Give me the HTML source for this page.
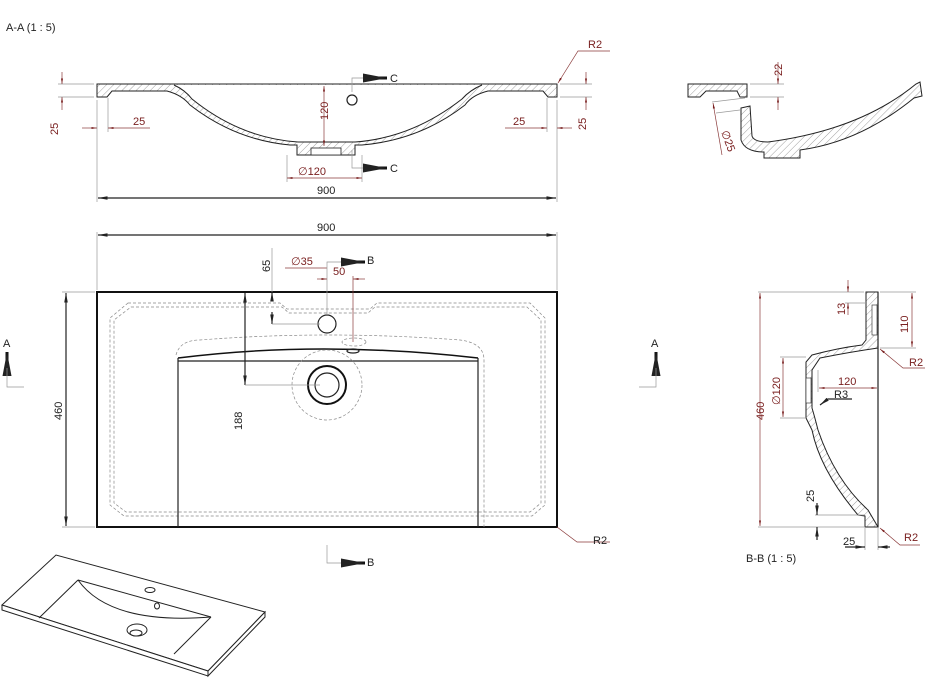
<!DOCTYPE html>
<html><head><meta charset="utf-8"><style>
html,body{margin:0;padding:0;background:#fff;}
svg{display:block;font-family:"Liberation Sans",sans-serif;}
.k{stroke:#222;fill:none;stroke-width:1.2}
.kb{stroke:#111;fill:none;stroke-width:2}
.d{stroke:#8a3a3a;fill:none;stroke-width:0.7}
.g{stroke:#999;fill:none;stroke-width:0.7}
.ds{stroke:#888;fill:none;stroke-width:0.7;stroke-dasharray:3 2}
.t{font-size:11px;fill:#222}
.r{font-size:11px;fill:#7a2020}
.h{fill:url(#hat);stroke:#222;stroke-width:1}
</style></head><body>
<svg width="928" height="686" viewBox="0 0 928 686">
<defs>
<pattern id="hat" width="5" height="5" patternUnits="userSpaceOnUse" patternTransform="rotate(45)">
<rect width="5" height="5" fill="#fff"/><line x1="0" y1="0" x2="0" y2="5" stroke="#777" stroke-width="0.7"/></pattern>
<marker id="a" markerWidth="8" markerHeight="6" refX="8" refY="3" orient="auto-start-reverse"><path d="M0,1.5 L8,3 L0,4.5z" fill="#7a2020"/></marker>
<marker id="ab" markerWidth="8" markerHeight="6" refX="8" refY="3" orient="auto-start-reverse"><path d="M0,1.5 L8,3 L0,4.5z" fill="#222"/></marker>
</defs>

<text x="6" y="31" class="t">A-A  (1 : 5)</text>

<!-- Section A-A -->
<path class="h" d="M97,84 L557,84 L557,97 L548,97 L543,91 L488,91 Q472,95 465,105 Q420,140 362,145 L355,145 L355,155 L297,155 L297,145 L290,145 Q235,140 190,105 Q182,95 167,91 L112,91 L107,97 L97,97 Z"/>
<path d="M174,85 Q185,90 192,99 Q240,138 298,142 L355,142 Q412,138 462,99 Q470,90 482,85" fill="#fff" stroke="#222" stroke-width="1"/>
<rect x="311" y="148" width="30" height="7" fill="#fff" stroke="#222" stroke-width="0.8"/>
<circle cx="352" cy="100" r="5" class="k"/>
<line x1="324" y1="86" x2="324" y2="146" class="d" marker-start="url(#a)" marker-end="url(#a)"/>
<text transform="translate(328,120) rotate(-90)" class="r">120</text>
<path d="M352,92 V78 H370" class="g"/><path d="M370,78 L387,78" stroke="#111" stroke-width="3" marker-end="url(#ab)"/>
<text x="390" y="82" class="t">C</text>
<path d="M352,150 V168 H370" class="g"/><path d="M370,168 L387,168" stroke="#111" stroke-width="3" marker-end="url(#ab)"/>
<text x="390" y="172" class="t">C</text>
<line x1="287" y1="155" x2="287" y2="182" class="g"/><line x1="362" y1="155" x2="362" y2="182" class="g"/>
<line x1="287" y1="178" x2="362" y2="178" class="d" marker-start="url(#a)" marker-end="url(#a)"/>
<text x="298" y="175" class="r">∅120</text>
<line x1="97" y1="100" x2="97" y2="202" class="g"/><line x1="557" y1="100" x2="557" y2="202" class="g"/>
<line x1="98" y1="198" x2="556" y2="198" class="k" stroke-width="0.8" marker-start="url(#ab)" marker-end="url(#ab)"/>
<text x="317" y="194" class="t">900</text>
<line x1="58" y1="84" x2="94" y2="84" class="g"/><line x1="58" y1="97" x2="94" y2="97" class="g"/>
<line x1="62" y1="72" x2="62" y2="84" class="d" marker-end="url(#a)"/><line x1="62" y1="110" x2="62" y2="97" class="d" marker-end="url(#a)"/>
<text transform="translate(58,135) rotate(-90)" class="r">25</text>
<line x1="108" y1="98" x2="108" y2="132" class="g"/>
<line x1="82" y1="128" x2="97" y2="128" class="d" marker-end="url(#a)"/><line x1="150" y1="128" x2="108" y2="128" class="d" marker-end="url(#a)"/>
<text x="133" y="125" class="r">25</text>
<line x1="547" y1="98" x2="547" y2="132" class="g"/>
<line x1="505" y1="128" x2="547" y2="128" class="d" marker-end="url(#a)"/><line x1="572" y1="128" x2="557" y2="128" class="d" marker-end="url(#a)"/>
<text x="513" y="125" class="r">25</text>
<line x1="560" y1="84" x2="592" y2="84" class="g"/><line x1="560" y1="97" x2="592" y2="97" class="g"/>
<line x1="586" y1="72" x2="586" y2="84" class="d" marker-end="url(#a)"/><line x1="586" y1="110" x2="586" y2="97" class="d" marker-end="url(#a)"/>
<text transform="translate(586,130) rotate(-90)" class="r">25</text>
<path d="M610,51 H578 L558,83" class="d" marker-end="url(#a)"/>
<text x="588" y="48" class="r">R2</text>

<!-- Section C -->
<path class="h" d="M688,84 L747,84 L747,97 L740,97 L737,91 L706,91 L700,97 L688,97 Z"/>
<path class="h" d="M741,108 L750,106 L752,136 Q754,142 768,142 Q860,130 916,84 L920,82 L922,96 L914,98 Q860,142 800,150 L800,158 L764,158 L764,152 Q745,152 741,140 Z"/>
<line x1="750" y1="84" x2="784" y2="84" class="g"/><line x1="750" y1="97" x2="784" y2="97" class="g"/>
<line x1="778" y1="62" x2="778" y2="84" class="d" marker-end="url(#a)"/><line x1="778" y1="110" x2="778" y2="97" class="d" marker-end="url(#a)"/>
<text transform="translate(782,76) rotate(-90)" class="r">22</text>
<line x1="712" y1="102" x2="745" y2="98" class="g"/><line x1="716" y1="113" x2="740" y2="110" class="g"/>
<line x1="713" y1="103" x2="722" y2="155" class="d" marker-start="url(#a)"/>
<text transform="translate(721,132) rotate(70)" class="r">∅25</text>

<!-- Plan view -->
<line x1="97" y1="232" x2="97" y2="290" class="g"/><line x1="557" y1="232" x2="557" y2="290" class="g"/>
<line x1="98" y1="235" x2="556" y2="235" class="k" stroke-width="0.8" marker-start="url(#ab)" marker-end="url(#ab)"/>
<text x="317" y="231" class="t">900</text>
<line x1="62" y1="292" x2="95" y2="292" class="g"/><line x1="62" y1="527" x2="95" y2="527" class="g"/>
<line x1="66" y1="293" x2="66" y2="526" class="k" stroke-width="0.6" marker-start="url(#ab)" marker-end="url(#ab)"/>
<text transform="translate(62,420) rotate(-90)" class="t">460</text>
<rect x="97" y="292" width="460" height="235" class="kb"/>
<path class="ds" d="M128,303 H280 L287,309 H370 L377,303 H530 L545,318 V505 L532,516 H124 L110,505 V318 Z"/>
<path class="ds" d="M131,307 H282 L289,313 H368 L375,307 H527 L541,320 V503 L530,512 H126 L114,503 V320 Z"/>
<path class="ds" d="M176,355 Q180,340 200,340 Q327,330 460,340 Q484,343 484,360 V527"/>
<path d="M178,358 Q320,340 478,358" stroke="#111" stroke-width="1.5" fill="none"/>
<path d="M178,358 V527 M478,358 V527 M178,361 H478" class="k"/>
<circle cx="327" cy="385" r="35" class="ds"/>
<circle cx="327" cy="385" r="19" stroke="#111" stroke-width="2" fill="none"/>
<circle cx="327" cy="385" r="12" class="k"/>
<circle cx="327" cy="324" r="9" class="k"/>
<ellipse cx="354" cy="342" rx="12" ry="4" class="ds"/>
<ellipse cx="353" cy="351" rx="6" ry="2" class="k"/>
<line x1="245" y1="293" x2="245" y2="385" class="k" stroke-width="0.6" marker-start="url(#ab)" marker-end="url(#ab)"/>
<line x1="245" y1="385" x2="320" y2="385" class="g"/>
<text transform="translate(242,430) rotate(-90)" class="t">188</text>
<line x1="272" y1="248" x2="272" y2="292" class="g"/>
<line x1="272" y1="300" x2="272" y2="292" class="k" stroke-width="0.6" marker-end="url(#ab)"/>
<line x1="272" y1="312" x2="272" y2="324" class="k" stroke-width="0.6" marker-end="url(#ab)"/>
<line x1="272" y1="324" x2="320" y2="324" class="g"/>
<text transform="translate(270,272) rotate(-90)" class="t">65</text>
<line x1="285" y1="268" x2="327" y2="268" class="d"/>
<text x="291" y="265" class="r">∅35</text>
<path d="M327,315 V262 H348" class="g"/><path d="M348,262 L365,262" stroke="#111" stroke-width="3" marker-end="url(#ab)"/>
<text x="367" y="264" class="t">B</text>
<line x1="353" y1="276" x2="353" y2="342" class="d"/>
<line x1="317" y1="279" x2="327" y2="279" class="d" marker-end="url(#a)"/>
<line x1="365" y1="279" x2="353" y2="279" class="d" marker-end="url(#a)"/>
<text x="333" y="275" class="r">50</text>
<path d="M327,545 V563 H348" class="g"/><path d="M348,563 L365,563" stroke="#111" stroke-width="3" marker-end="url(#ab)"/>
<text x="367" y="566" class="t">B</text>
<path d="M557,527 L577,542 H610" class="d"/>
<text x="593" y="544" class="t">R2</text>
<text x="3" y="347" class="t">A</text>
<path d="M7,368 V352" stroke="#111" stroke-width="3" marker-end="url(#ab)"/>
<path d="M7,368 V387 H24" class="g"/>
<text x="651" y="347" class="t">A</text>
<path d="M656,368 V352" stroke="#111" stroke-width="3" marker-end="url(#ab)"/>
<path d="M656,368 V387 H639" class="g"/>

<!-- Section B-B -->
<path class="h" d="M866,292 L878,292 L878,348 Q850,352 820,358 L812,370 L812,408 Q815,418 818,430 Q835,480 868,510 L878,527 L865,527 L865,516 L858,515 Q820,470 812,430 L806,418 V362 L812,355 Q838,348 862,345 L866,340 Z"/>
<path d="M878,292 V527" class="k"/>
<rect x="806" y="378" width="5" height="25" fill="#fff" stroke="#222" stroke-width="0.6"/>
<rect x="872" y="305" width="5" height="30" fill="#fff" stroke="#222" stroke-width="0.6"/>
<line x1="758" y1="292" x2="864" y2="292" class="g"/><line x1="758" y1="527" x2="864" y2="527" class="g"/>
<line x1="760" y1="293" x2="760" y2="526" class="d" marker-start="url(#a)" marker-end="url(#a)"/>
<text transform="translate(764,420) rotate(-90)" class="r">460</text>
<line x1="880" y1="292" x2="916" y2="292" class="g"/><line x1="880" y1="348" x2="916" y2="348" class="g"/>
<line x1="912" y1="293" x2="912" y2="347" class="d" marker-start="url(#a)" marker-end="url(#a)"/>
<text transform="translate(908,333) rotate(-90)" class="r">110</text>
<line x1="845" y1="303" x2="866" y2="303" class="g"/>
<line x1="848" y1="280" x2="848" y2="292" class="d" marker-end="url(#a)"/><line x1="848" y1="315" x2="848" y2="303" class="d" marker-end="url(#a)"/>
<text transform="translate(845,315) rotate(-90)" class="r">13</text>
<line x1="780" y1="357" x2="806" y2="357" class="g"/><line x1="780" y1="418" x2="806" y2="418" class="g"/>
<line x1="783" y1="358" x2="783" y2="417" class="d" marker-start="url(#a)" marker-end="url(#a)"/>
<text transform="translate(780,405) rotate(-90)" class="r">∅120</text>
<line x1="819" y1="388" x2="877" y2="388" class="d" marker-start="url(#a)" marker-end="url(#a)"/>
<line x1="818" y1="370" x2="818" y2="392" class="g"/>
<text x="838" y="385" class="r">120</text>
<path d="M852,399 H828 L820,405" class="k" stroke-width="0.6" marker-end="url(#ab)"/>
<text x="834" y="398" class="t">R3</text>
<line x1="815" y1="515" x2="865" y2="515" class="g"/>
<line x1="817" y1="503" x2="817" y2="515" class="k" stroke-width="0.6" marker-end="url(#ab)"/>
<line x1="817" y1="540" x2="817" y2="527" class="k" stroke-width="0.6" marker-end="url(#ab)"/>
<text transform="translate(814,502) rotate(-90)" class="t">25</text>
<line x1="865" y1="527" x2="865" y2="550" class="g"/><line x1="878" y1="527" x2="878" y2="550" class="g"/>
<line x1="845" y1="547" x2="865" y2="547" class="k" stroke-width="0.6" marker-end="url(#ab)"/>
<line x1="890" y1="547" x2="878" y2="547" class="k" stroke-width="0.6" marker-end="url(#ab)"/>
<text x="843" y="545" class="t">25</text>
<path d="M925,368 H903 L880,349" class="d" marker-end="url(#a)"/>
<text x="909" y="366" class="r">R2</text>
<path d="M920,545 H900 L880,528" class="d" marker-end="url(#a)"/>
<text x="904" y="541" class="r">R2</text>
<text x="746" y="562" class="t">B-B  (1 : 5)</text>

<!-- 3D view -->
<g stroke="#222" stroke-width="1" fill="#fff">
<path d="M2,605 L56,555 L265,612 L208,671 Z"/>
<path d="M2,605 L2,610 L208,676 L208,671 Z"/>
<path d="M208,671 L265,612 L265,617 L208,676 Z"/>
<path d="M78,580 L211,617 M78,580 L39,618 M174,654 L211,617" fill="none"/>
<path d="M78,580 Q110,625 211,617" fill="none"/>
<ellipse cx="150" cy="590" rx="5" ry="2.5"/>
<ellipse cx="157" cy="606" rx="2.5" ry="3"/>
<ellipse cx="137" cy="630" rx="10" ry="6"/>
<ellipse cx="136" cy="633" rx="6" ry="3"/>
</g>
</svg>
</body></html>
